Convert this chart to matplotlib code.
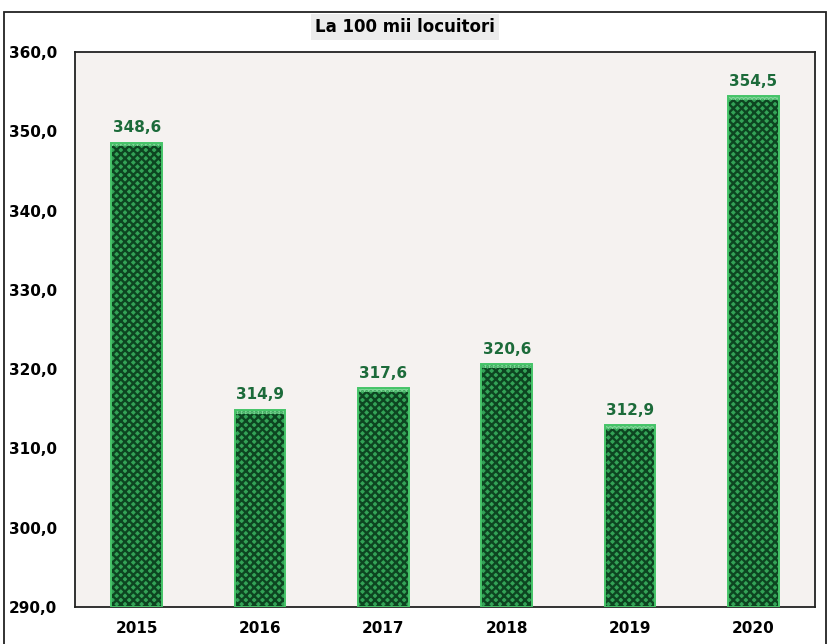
import matplotlib.pyplot as plt
from matplotlib.patches import Rectangle

years = ["2015", "2016", "2017", "2018", "2019", "2020"]
rates = [348.6, 314.9, 317.6, 320.6, 312.9, 354.5]
y_ticks = [290, 300, 310, 320, 330, 340, 350, 360]
base = 290

plt.rcParams["hatch.linewidth"] = 1.7
plt.rcParams["font.family"] = "DejaVu Sans"

fig = plt.figure(figsize=(8.27, 6.44), dpi=100)
ax = fig.add_axes([0.0907, 0.0575, 0.895, 0.8615])
ax.set_facecolor("#f5f2f0")

x = range(len(years))
heights = [r - base for r in rates]
# hatched fill, a pale cap strip, then a separate outline in lighter green
ax.bar(x, heights, bottom=base, width=0.41,
       color="#33a357", edgecolor="#0d4521", hatch="xxxx", linewidth=0, zorder=2)
ax.bar(x, [0.5] * len(rates), bottom=[r - 0.5 for r in rates], width=0.41,
       color="#7fd898", edgecolor="#3aa55a", hatch="....", linewidth=0, zorder=2.5)
ax.bar(x, heights, bottom=base, width=0.41,
       color="none", edgecolor="#45c468", linewidth=1.4, zorder=3)

for i, r in enumerate(rates):
    ax.text(i, r + 0.9, f"{r:.1f}".replace(".", ","), ha="center", va="bottom",
            fontsize=11, fontweight="bold", color="#1c6b3a")

ax.set_xlim(-0.5, len(years) - 0.5)
ax.set_ylim(290, 360)
ax.set_yticks(y_ticks)
ax.set_yticklabels([f"{t:.1f}".replace(".", ",") for t in y_ticks],
                   fontsize=11, fontweight="bold")
ax.set_xticks(list(x))
ax.set_xticklabels(years, fontsize=11, fontweight="bold")
ax.tick_params(length=0, pad=13)
ax.tick_params(axis="x", pad=10)
for s in ax.spines.values():
    s.set_linewidth(1.3)
    s.set_color("#222222")

fig.text(0.49, 0.958, "La 100 mii locuitori", ha="center", va="center",
         fontsize=12, fontweight="bold",
         bbox=dict(facecolor="#ececec", edgecolor="none", pad=3))

# outer frame around the chart
fig.patches.append(Rectangle((4 / 827, -0.05), 822 / 827, 1.05 - 12 / 644,
                             transform=fig.transFigure, fill=False,
                             edgecolor="#222222", linewidth=1.3))

fig.savefig("out.png", dpi=100)
